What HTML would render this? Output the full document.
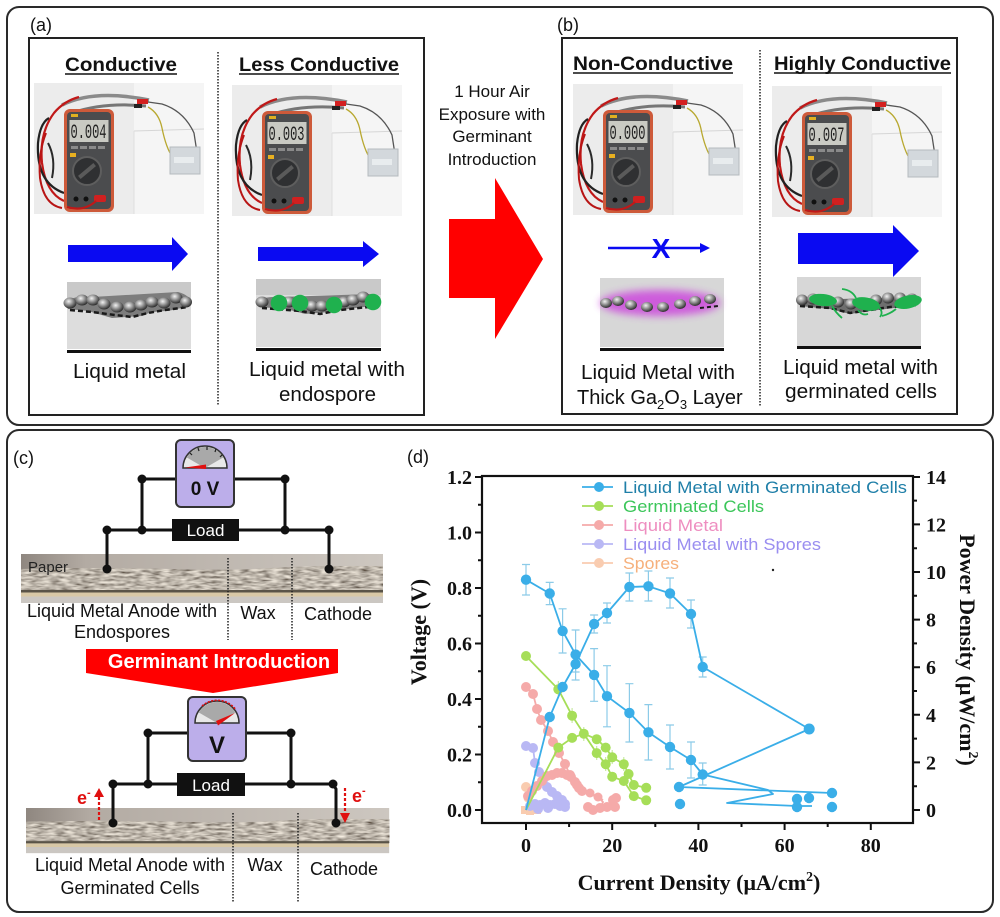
<!DOCTYPE html>
<html><head><meta charset="utf-8"><style>
html,body{margin:0;padding:0;background:#fff;}
svg{display:block;}
.s{font-family:"Liberation Sans",sans-serif;}
.r{font-family:"Liberation Serif",serif;font-weight:bold;}
</style></head><body>
<svg width="1000" height="917" viewBox="0 0 1000 917" xmlns="http://www.w3.org/2000/svg">
<defs>
<radialGradient id="ball" cx="0.4" cy="0.35" r="0.65"><stop offset="0" stop-color="#f2f2f2"/><stop offset="0.45" stop-color="#9a9a9a"/><stop offset="1" stop-color="#2e2e2e"/></radialGradient>
<linearGradient id="paperG" x1="0" x2="1" y1="0" y2="0"><stop offset="0" stop-color="#8f8780"/><stop offset="0.18" stop-color="#b3aba3"/><stop offset="1" stop-color="#cdc7c0"/></linearGradient>
<filter id="nz" x="0" y="0" width="1" height="1"><feTurbulence type="fractalNoise" baseFrequency="0.1 0.4" numOctaves="2" seed="5" result="t"/><feColorMatrix in="t" type="matrix" values="1.1 0 0 0 -0.04  1.05 0 0 0 -0.06  0.95 0 0 0 -0.07  0 0 0 0 1"/></filter>
<filter id="blur4" x="-30%" y="-100%" width="160%" height="300%"><feGaussianBlur stdDeviation="4"/></filter>
<g id="photo">
 <rect width="170" height="131" fill="#ececec"/>
 <rect x="100" y="0" width="70" height="131" fill="#f5f5f5"/>
 <line x1="100" y1="48" x2="170" y2="46" stroke="#d6d6d6" stroke-width="1"/>
 <line x1="100" y1="48" x2="100" y2="131" stroke="#dedede" stroke-width="1"/>
 <path d="M28,22 Q60,6 115,17" stroke="#8a8a8a" stroke-width="3.5" fill="none"/>
 <path d="M38,30 Q70,19 112,23" stroke="#767676" stroke-width="3" fill="none"/>
 <rect x="103" y="16" width="11" height="5" fill="#d42020"/>
 <rect x="100" y="21" width="8" height="4" fill="#222"/>
 <path d="M114,19 L128,21 Q150,28 160,50 L164,76" stroke="#555" stroke-width="1.3" fill="none"/>
 <path d="M114,24 Q125,30 128,45 Q132,65 139,75" stroke="#b8a830" stroke-width="1.3" fill="none"/>
 <rect x="136" y="64" width="30" height="27" fill="#d3d8dc" stroke="#b5babe" stroke-width="1"/>
 <rect x="140" y="74" width="20" height="6" fill="#e8ecee"/>
 <path d="M30,118 Q12,110 8,80 Q5,50 20,30 Q30,18 45,14" stroke="#c01818" stroke-width="2.2" fill="none"/>
 <path d="M30,110 Q2,100 4,60 Q6,40 15,35" stroke="#222" stroke-width="2.2" fill="none"/>
 <path d="M28,125 Q10,122 6,95 Q4,70 12,50" stroke="#b81515" stroke-width="2" fill="none"/>
 <path d="M14,60 Q22,75 18,95" stroke="#2a2a2a" stroke-width="2" fill="none"/>
 <rect x="30" y="26" width="50" height="103" rx="6" fill="#cd5a3a"/>
 <rect x="33" y="29" width="44" height="97" rx="4" fill="#4b4c4e"/>
 <rect x="35.5" y="37" width="39" height="22" fill="#c9cac3"/>
 <rect x="37" y="31" width="7" height="3" fill="#e0b020"/>
 <rect x="37" y="63" width="7" height="3" fill="#8a8a8a"/><rect x="46" y="63" width="7" height="3" fill="#8a8a8a"/><rect x="55" y="63" width="7" height="3" fill="#8a8a8a"/><rect x="64" y="63" width="7" height="3" fill="#8a8a8a"/>
 <rect x="36" y="70" width="6" height="4" fill="#e8b020"/>
 <circle cx="53" cy="88" r="14" fill="#2f3032" stroke="#5e5e5e" stroke-width="2"/>
 <rect x="43" y="86" width="20" height="4" transform="rotate(-40 53 88)" fill="#5a5a5a"/>
 <circle cx="42" cy="116" r="2.5" fill="#111"/><circle cx="52" cy="116" r="2.5" fill="#111"/>
 <rect x="60" y="112" width="12" height="7" rx="2" fill="#d02020"/>
 <path d="M62,118 Q50,129 33,124" stroke="#c01818" stroke-width="2.2" fill="none"/>
</g>
<g id="strip">
 <rect x="0" y="0" width="362" height="49" fill="#c8c2ba"/>
 <rect x="0" y="12" width="362" height="26" filter="url(#nz)"/>
 <path d="M0,0 H362 V12 Q300,11 250,14 Q200,17 150,15 Q80,13 0,15 Z" fill="url(#paperG)"/>
 <rect x="0" y="36" width="362" height="2.5" fill="#5a5448"/>
 <rect x="0" y="38.5" width="362" height="4" fill="#d8c8a6"/>
 <rect x="0" y="42.5" width="362" height="6.5" fill="#cbc7c2"/>
</g>
</defs>

<rect width="1000" height="917" fill="#fff"/>

<!-- ============ TOP PANEL ============ -->
<rect x="7" y="7" width="986" height="418" rx="12" fill="none" stroke="#2a2a2a" stroke-width="2"/>
<text x="30" y="31" class="s" font-size="18" fill="#111">(a)</text>
<text x="557" y="31" class="s" font-size="18" fill="#111">(b)</text>

<rect x="29" y="38" width="395" height="377" fill="none" stroke="#222" stroke-width="2"/>
<rect x="562" y="38" width="395" height="376" fill="none" stroke="#222" stroke-width="2"/>
<line x1="218" y1="52" x2="218" y2="406" stroke="#222" stroke-width="1.5" stroke-dasharray="1.5 1.5"/>
<line x1="760" y1="50" x2="760" y2="406" stroke="#222" stroke-width="1.5" stroke-dasharray="1.5 1.5"/>

<g class="s" font-weight="bold" fill="#111" font-size="19">
 <text x="65" y="71" textLength="112" lengthAdjust="spacingAndGlyphs">Conductive</text>
 <line x1="65" y1="74" x2="177" y2="74" stroke="#111" stroke-width="1.5"/>
 <text x="239" y="71" textLength="160" lengthAdjust="spacingAndGlyphs">Less Conductive</text>
 <line x1="239" y1="74" x2="399" y2="74" stroke="#111" stroke-width="1.5"/>
 <text x="573" y="70" textLength="160" lengthAdjust="spacingAndGlyphs">Non-Conductive</text>
 <line x1="573" y1="73" x2="733" y2="73" stroke="#111" stroke-width="1.5"/>
 <text x="774" y="70" textLength="177" lengthAdjust="spacingAndGlyphs">Highly Conductive</text>
 <line x1="774" y1="73" x2="951" y2="73" stroke="#111" stroke-width="1.5"/>
</g>

<!-- photos -->
<use href="#photo" transform="translate(34,83)"/>
<use href="#photo" transform="translate(232,85)"/>
<use href="#photo" transform="translate(573,84)"/>
<use href="#photo" transform="translate(772,86)"/>
<g font-family="'Liberation Mono',monospace" font-size="20" fill="#222">
 <text x="70.5" y="138" textLength="36" lengthAdjust="spacingAndGlyphs">0.004</text>
 <text x="268.5" y="140" textLength="36" lengthAdjust="spacingAndGlyphs">0.003</text>
 <text x="609.5" y="139" textLength="36" lengthAdjust="spacingAndGlyphs">0.000</text>
 <text x="808.5" y="141" textLength="36" lengthAdjust="spacingAndGlyphs">0.007</text>
</g>

<!-- blue arrows -->
<polygon points="68,245 172,245 172,237 188,254 172,271 172,262 68,262" fill="#0a0af2"/>
<polygon points="258,247 363,247 363,241 379,254 363,267 363,261 258,261" fill="#0a0af2"/>
<line x1="608" y1="248" x2="702" y2="248" stroke="#0a0af2" stroke-width="2.5"/>
<polygon points="700,243 710,248 700,253" fill="#0a0af2"/>
<text x="661" y="258" class="s" font-weight="bold" font-size="28" fill="#0a0af2" text-anchor="middle">X</text>
<polygon points="798,233 893,233 893,225 919,251 893,277 893,264 798,264" fill="#0a0af2"/>

<!-- red arrow -->
<polygon points="449,219 495,219 495,178 543,259 495,339 495,298 449,298" fill="#ff0000"/>
<g class="s" font-size="17" fill="#111" text-anchor="middle">
 <text x="492" y="97">1 Hour Air</text>
 <text x="492" y="120">Exposure with</text>
 <text x="492" y="142">Germinant</text>
 <text x="492" y="165">Introduction</text>
</g>

<!-- diagram a1 -->
<rect x="67" y="282" width="124" height="67" fill="#dddddd"/>
<rect x="67" y="282" width="124" height="16" fill="#c9c9c9"/>
<path d="M66,303 Q72,295 92,297 L178,292 Q193,296 190,306 L168,311 Q150,311 142,316 L112,318 Q98,314 88,311 L68,309 Z" fill="#7d7d7d"/>
<path d="M70,310 L92,312 L115,315 L132,317 L148,313 L165,310 L188,307" stroke="#1a1a1a" stroke-width="2.5" fill="none" stroke-dasharray="5 3"/>
<g fill="url(#ball)">
 <ellipse cx="70" cy="303" rx="6.5" ry="5.5"/><ellipse cx="82" cy="300" rx="6.5" ry="5.5"/><ellipse cx="93" cy="300" rx="6.5" ry="5.5"/><ellipse cx="104" cy="304" rx="6.5" ry="5.5"/><ellipse cx="117" cy="307" rx="6.5" ry="5.5"/><ellipse cx="130" cy="307" rx="6.5" ry="5.5"/><ellipse cx="141" cy="305" rx="6.5" ry="5.5"/><ellipse cx="152" cy="302" rx="6.5" ry="5.5"/><ellipse cx="164" cy="303" rx="6.5" ry="5.5"/><ellipse cx="176" cy="298" rx="6.5" ry="5.5"/><ellipse cx="186" cy="302" rx="6" ry="5.5"/>
</g>
<rect x="67" y="350" width="124" height="3" fill="#111"/>

<!-- diagram a2 -->
<rect x="256" y="279" width="125" height="68" fill="#dddddd"/>
<rect x="256" y="279" width="125" height="16" fill="#c9c9c9"/>
<path d="M257,302 Q263,296 280,297 L372,294 Q382,297 380,305 L356,308 Q340,310 330,312 L305,314 Q295,311 285,309 L259,307 Z" fill="#7d7d7d"/>
<path d="M262,308 L300,311 L320,314 L340,310 L378,306" stroke="#1a1a1a" stroke-width="2.5" fill="none" stroke-dasharray="5 3"/>
<g fill="url(#ball)">
 <ellipse cx="262" cy="302" rx="6.5" ry="5.5"/><ellipse cx="289" cy="302" rx="6.5" ry="5.5"/><ellipse cx="312" cy="306" rx="6.5" ry="5.5"/><ellipse cx="322" cy="306" rx="6.5" ry="5.5"/><ellipse cx="344" cy="302" rx="6.5" ry="5.5"/><ellipse cx="353" cy="300" rx="6.5" ry="5.5"/><ellipse cx="363" cy="297" rx="6.5" ry="5.5"/>
</g>
<g fill="#1fb14e"><circle cx="279" cy="303" r="8.3"/><circle cx="300" cy="303" r="8.3"/><circle cx="334" cy="305" r="8.3"/><circle cx="373" cy="302" r="8.3"/></g>
<rect x="256" y="348" width="125" height="3" fill="#111"/>

<!-- diagram b1 -->
<rect x="600" y="278" width="124" height="69" fill="#d7d7d7"/>
<ellipse cx="660" cy="303" rx="60" ry="13" fill="#cc4fdc" filter="url(#blur4)" opacity="0.9"/>
<g fill="url(#ball)">
 <ellipse cx="606" cy="303" rx="6" ry="5"/><ellipse cx="618" cy="301" rx="6" ry="5"/><ellipse cx="631" cy="305" rx="6" ry="5"/><ellipse cx="647" cy="307" rx="6" ry="5"/><ellipse cx="663" cy="307" rx="6" ry="5"/><ellipse cx="680" cy="304" rx="6" ry="5"/><ellipse cx="695" cy="301" rx="6" ry="5"/><ellipse cx="710" cy="299" rx="6" ry="5"/>
</g>
<path d="M700,308 L718,306" stroke="#1a1a1a" stroke-width="2" fill="none" stroke-dasharray="4 3"/>
<rect x="600" y="348" width="124" height="3" fill="#111"/>

<!-- diagram b2 -->
<rect x="797" y="277" width="124" height="69" fill="#d7d7d7"/>
<path d="M799,300 L918,297 L918,305 L870,311 L850,314 L830,309 L800,306 Z" fill="#6e6e6e"/>
<path d="M800,306 L830,308 L850,313 L870,310 L890,307 L918,305" stroke="#1a1a1a" stroke-width="2.5" fill="none" stroke-dasharray="5 3"/>
<g fill="url(#ball)">
 <ellipse cx="802" cy="300" rx="6" ry="5.5"/><ellipse cx="813" cy="299" rx="6" ry="5.5"/><ellipse cx="838" cy="302" rx="6" ry="5.5"/><ellipse cx="851" cy="304" rx="6" ry="5.5"/><ellipse cx="876" cy="300" rx="6" ry="5.5"/><ellipse cx="888" cy="298" rx="6" ry="5.5"/><ellipse cx="900" cy="298" rx="6" ry="5.5"/><ellipse cx="912" cy="299" rx="6" ry="5.5"/>
</g>
<g fill="#1fb14e">
 <ellipse cx="823" cy="300" rx="14" ry="6" transform="rotate(6 823 300)"/>
 <ellipse cx="866" cy="304" rx="14" ry="6.5" transform="rotate(10 866 304)"/>
 <ellipse cx="908" cy="302" rx="14" ry="6.5" transform="rotate(-12 908 302)"/>
</g>
<g stroke="#1fb14e" stroke-width="1.8" fill="none">
 <path d="M842,289 Q852,290 856,298"/>
 <path d="M832,306 Q836,313 842,318"/>
 <path d="M878,306 Q884,312 880,317"/>
 <path d="M858,310 Q862,316 868,314"/>
 <path d="M896,309 Q890,314 882,316"/>
</g>
<rect x="797" y="346" width="124" height="3" fill="#111"/>

<!-- captions -->
<g class="s" font-size="20" fill="#111">
 <text x="73" y="378" textLength="113" lengthAdjust="spacingAndGlyphs">Liquid metal</text>
 <text x="249" y="376" textLength="156" lengthAdjust="spacingAndGlyphs">Liquid metal with</text>
 <text x="279" y="401" textLength="97" lengthAdjust="spacingAndGlyphs">endospore</text>
 <text x="581" y="379" textLength="154" lengthAdjust="spacingAndGlyphs">Liquid Metal with</text>
 <text x="577" y="404">Thick Ga<tspan font-size="13" dy="5">2</tspan><tspan dy="-5">O</tspan><tspan font-size="13" dy="5">3</tspan><tspan dy="-5"> Layer</tspan></text>
 <text x="783" y="374" textLength="155" lengthAdjust="spacingAndGlyphs">Liquid metal with</text>
 <text x="785" y="398" textLength="152" lengthAdjust="spacingAndGlyphs">germinated cells</text>
</g>

<!-- ============ BOTTOM PANEL ============ -->
<rect x="7" y="430" width="986" height="482" rx="12" fill="none" stroke="#2a2a2a" stroke-width="2"/>
<text x="13" y="464" class="s" font-size="18" fill="#111">(c)</text>
<text x="407" y="463" class="s" font-size="18" fill="#111">(d)</text>

<!-- panel c top circuit -->
<use href="#strip" transform="translate(21,554)"/>
<g stroke="#111" stroke-width="3" fill="none">
 <polyline points="142,530 142,479 285,479 285,530"/>
 <line x1="107" y1="530" x2="329" y2="530"/>
 <line x1="107" y1="530" x2="107" y2="569"/>
 <line x1="329" y1="530" x2="329" y2="569"/>
</g>
<g fill="#111">
 <circle cx="142" cy="479" r="4.5"/><circle cx="285" cy="479" r="4.5"/>
 <circle cx="107" cy="530" r="4.5"/><circle cx="142" cy="530" r="4.5"/><circle cx="285" cy="530" r="4.5"/><circle cx="329" cy="530" r="4.5"/>
 <circle cx="107" cy="569" r="4.5"/><circle cx="329" cy="569" r="4.5"/>
</g>
<rect x="176" y="440" width="58" height="67" rx="5" fill="#bcaeea" stroke="#333" stroke-width="2"/>
<path d="M183,468 A22,22 0 0 1 227,468 Z" fill="#e8e8e8" stroke="#333" stroke-width="1.5"/>
<path d="M205,468 L186.8,457.5 A21,21 0 0 1 223.2,457.5 Z" fill="#a9a9a9"/>
<g stroke="#222" stroke-width="1.2"><line x1="190" y1="453" x2="192" y2="455"/><line x1="198" y1="448" x2="199" y2="451"/><line x1="207" y1="447" x2="207" y2="450"/><line x1="216" y1="449" x2="215" y2="452"/><line x1="222" y1="455" x2="220" y2="457"/></g>
<polygon points="206,464.5 206,469 185,467.5" fill="#e01010"/>
<rect x="172" y="519" width="67" height="22" fill="#111"/>
<text x="205.5" y="536" class="s" font-size="17" fill="#fff" text-anchor="middle">Load</text>
<text x="205" y="495" class="s" font-size="19" font-weight="bold" fill="#111" text-anchor="middle">0 V</text>
<line x1="228" y1="558" x2="228" y2="640" stroke="#222" stroke-width="1.5" stroke-dasharray="1.5 1.5"/>
<line x1="292" y1="558" x2="292" y2="640" stroke="#222" stroke-width="1.5" stroke-dasharray="1.5 1.5"/>
<text x="28" y="572" class="s" font-size="15" fill="#222">Paper</text>
<g class="s" font-size="18" fill="#111" text-anchor="middle">
 <text x="122" y="617">Liquid Metal Anode with</text>
 <text x="122" y="638">Endospores</text>
 <text x="258" y="619">Wax</text>
 <text x="338" y="620">Cathode</text>
</g>

<!-- banner -->
<polygon points="86,649 338,649 338,673 213,693 86,673" fill="#ff0000"/>
<text x="219" y="668" class="s" font-size="20" font-weight="bold" fill="#fff" text-anchor="middle">Germinant Introduction</text>

<!-- panel c bottom circuit -->
<use href="#strip" transform="translate(26,808) scale(1.003,0.92)"/>
<g stroke="#111" stroke-width="3" fill="none">
 <polyline points="148,784 148,733 291,733 291,784"/>
 <line x1="113" y1="784" x2="333" y2="784"/>
 <line x1="113" y1="784" x2="113" y2="823"/>
 <polyline points="333,784 336,789 336,823"/>
</g>
<g fill="#111">
 <circle cx="148" cy="733" r="4.5"/><circle cx="291" cy="733" r="4.5"/>
 <circle cx="113" cy="784" r="4.5"/><circle cx="148" cy="784" r="4.5"/><circle cx="291" cy="784" r="4.5"/><circle cx="333" cy="784" r="4.5"/>
 <circle cx="113" cy="823" r="4.5"/><circle cx="336" cy="823" r="4.5"/>
</g>
<rect x="188" y="697" width="58" height="64" rx="5" fill="#bcaeea" stroke="#333" stroke-width="2"/>
<path d="M195,723 A22,22 0 0 1 239,723 Z" fill="#e8e8e8" stroke="#333" stroke-width="1.5"/>
<path d="M217,723 L198.8,712.5 A21,21 0 0 1 235.2,712.5 Z" fill="#a9a9a9"/>
<path d="M202,706 A23,23 0 0 1 236,710" stroke="#e01010" stroke-width="1.6" fill="none" stroke-dasharray="2 1.5"/>
<polygon points="216,721 218,725.5 235,713" fill="#e01010"/>
<rect x="177" y="773" width="68" height="23" fill="#111"/>
<text x="211" y="791" class="s" font-size="17" fill="#fff" text-anchor="middle">Load</text>
<text x="217" y="753" class="s" font-size="24" font-weight="bold" fill="#111" text-anchor="middle">V</text>
<line x1="99" y1="820" x2="99" y2="796" stroke="#e01010" stroke-width="2.2" stroke-dasharray="3 2"/>
<polygon points="94,797 99,788 104,797" fill="#e01010"/>
<text x="77" y="804" class="s" font-size="18" font-weight="bold" fill="#e01010">e<tspan font-size="11" dy="-8">-</tspan></text>
<line x1="345" y1="788" x2="345" y2="814" stroke="#e01010" stroke-width="2.2" stroke-dasharray="3 2"/>
<polygon points="340,813 345,823 350,813" fill="#e01010"/>
<text x="352" y="802" class="s" font-size="18" font-weight="bold" fill="#e01010">e<tspan font-size="11" dy="-8">-</tspan></text>
<line x1="233" y1="813" x2="233" y2="903" stroke="#222" stroke-width="1.5" stroke-dasharray="1.5 1.5"/>
<line x1="298" y1="813" x2="298" y2="903" stroke="#222" stroke-width="1.5" stroke-dasharray="1.5 1.5"/>
<g class="s" font-size="18" fill="#111" text-anchor="middle">
 <text x="130" y="871">Liquid Metal Anode with</text>
 <text x="130" y="894">Germinated Cells</text>
 <text x="265" y="871">Wax</text>
 <text x="344" y="875">Cathode</text>
</g>

<!-- ============ CHART ============ -->
<g stroke="#8ccbe8" stroke-width="1.2" fill="none">
 <path d="M526,564.5V595 M522,564.5h8 M522,595h8"/>
 <path d="M549.7,582.4V604.6 M545.7,582.4h8 M545.7,604.6h8"/>
 <path d="M562.6,608.8V653 M558.6,608.8h8 M558.6,653h8"/>
 <path d="M575.6,630V680 M571.6,630h8 M571.6,680h8"/>
 <path d="M594.1,648.6V701.3 M590.1,648.6h8 M590.1,701.3h8"/>
 <path d="M607,665.7V726.8 M603,665.7h8 M603,726.8h8"/>
 <path d="M629.4,683.7V742 M625.4,683.7h8 M625.4,742h8"/>
 <path d="M648.4,704.6V760 M644.4,704.6h8 M644.4,760h8"/>
 <path d="M670,725V769 M666,725h8 M666,769h8"/>
 <path d="M691,742V778 M687,742h8 M687,778h8"/>
 <path d="M702.7,763V785 M698.7,763h8 M698.7,785h8"/>
 <path d="M594.1,615V633 M590.1,615h8 M590.1,633h8"/>
 <path d="M607,603V623 M603,603h8 M603,623h8"/>
 <path d="M629.4,573V601 M625.4,573h8 M625.4,601h8"/>
 <path d="M648.4,571V601 M644.4,571h8 M644.4,601h8"/>
 <path d="M670,578V608 M666,578h8 M666,608h8"/>
 <path d="M691,600V628 M687,600h8 M687,628h8"/>
 <path d="M702.7,657V677 M698.7,657h8 M698.7,677h8"/>
 <path d="M575.6,656V672 M571.6,656h8 M571.6,672h8"/>
</g>
<g stroke="#c4e89a" stroke-width="1.1" fill="none">
 <path d="M558.3,681V697 M572.1,708V723 M583.8,727V741 M596.7,746V760 M605.7,757V771 M612.2,750V764 M623.8,757V771"/>
</g>

<g fill="#f9ccb0">
 <circle cx="526" cy="787" r="5"/><circle cx="528" cy="798" r="4.5"/>
 <rect x="521" y="806" width="8" height="8"/><rect x="526" y="807" width="8" height="8"/><rect x="531" y="806" width="8" height="8"/><rect x="535" y="806" width="6" height="8"/>
</g>
<g stroke="#b9b8f4" stroke-width="1.8" fill="none">
 <polyline points="526,746 533,748 535,763 539,772 543,780 547,787 552,792 557,796 562,800 565,804"/>
 <polyline points="528,808 533,805 538,806 543,804 548,806 553,805 558,806 562,806 565,807"/>
</g>
<g fill="#b9b8f4">
 <circle cx="526" cy="746" r="5"/><circle cx="533" cy="748" r="5"/><circle cx="535" cy="763" r="5"/><circle cx="539" cy="772" r="5"/><circle cx="543" cy="780" r="5"/><circle cx="547" cy="787" r="5"/><circle cx="552" cy="792" r="5"/><circle cx="557" cy="796" r="5"/><circle cx="562" cy="800" r="5"/><circle cx="565" cy="804" r="5"/>
 <circle cx="530" cy="806" r="5"/><circle cx="535" cy="804" r="5"/><circle cx="540" cy="805" r="5"/><circle cx="545" cy="803" r="5"/><circle cx="550" cy="805" r="5"/><circle cx="555" cy="804" r="5"/><circle cx="560" cy="806" r="5"/><circle cx="565" cy="807" r="5"/><circle cx="548" cy="808" r="5"/><circle cx="538" cy="809" r="5"/>
</g>
<g stroke="#f5aaa9" stroke-width="1.8" fill="none">
 <polyline points="526,687 533,694 537,709 541,720 548,731 553,742 559,753 565,764 570,775 577,785 582,791 590,793 598,797 603,800"/>
 <polyline points="528,796 532,791 537,786 542,781 547,776 552,775 557,773 562,773 567,775 571,777 575,782 579,788 585,791 592,795 598,797 603,802 600,808 593,810 588,807 600,807 607,807 615,807 613,800 616,798"/>
</g>
<g fill="#f5aaa9">
 <circle cx="526" cy="687" r="5"/><circle cx="533" cy="694" r="5"/><circle cx="537" cy="709" r="5"/><circle cx="541" cy="720" r="5"/><circle cx="548" cy="731" r="5"/><circle cx="553" cy="742" r="5"/><circle cx="559" cy="753" r="5"/><circle cx="565" cy="764" r="5"/><circle cx="570" cy="775" r="5"/><circle cx="577" cy="785" r="5"/><circle cx="582" cy="791" r="5"/><circle cx="590" cy="793" r="4.5"/><circle cx="598" cy="797" r="4.5"/>
 <circle cx="528" cy="796" r="5"/><circle cx="532" cy="791" r="5"/><circle cx="537" cy="786" r="5"/><circle cx="542" cy="781" r="5"/><circle cx="547" cy="776" r="5"/><circle cx="552" cy="775" r="5"/><circle cx="557" cy="773" r="5"/><circle cx="562" cy="773" r="5"/><circle cx="567" cy="775" r="5"/><circle cx="571" cy="777" r="5"/><circle cx="575" cy="782" r="5"/><circle cx="579" cy="788" r="5"/>
 <circle cx="588" cy="807" r="5"/><circle cx="593" cy="810" r="5"/><circle cx="600" cy="808" r="5"/><circle cx="607" cy="807" r="5"/><circle cx="615" cy="807" r="5"/><circle cx="613" cy="800" r="5"/><circle cx="616" cy="798" r="5"/>
</g>
<g stroke="#a6de58" stroke-width="1.8" fill="none">
 <polyline points="526,656 558.3,689.3 572.1,715.7 583.8,733.7 596.7,753.1 605.7,764.2 612.2,776.7 623.8,781 633.8,796.1 646.2,800.3"/>
 <polyline points="526,810 558.3,747.6 572.1,737.9 583.8,733.7 596.7,739.2 605.7,747.6 612.2,757.3 623.8,764.2 628.6,774 633.8,785 646.2,787.8"/>
</g>
<g fill="#a6de58">
 <circle cx="526" cy="656" r="5"/><circle cx="558.3" cy="689.3" r="5"/><circle cx="572.1" cy="715.7" r="5"/><circle cx="583.8" cy="733.7" r="5"/><circle cx="596.7" cy="753.1" r="5"/><circle cx="605.7" cy="764.2" r="5"/><circle cx="612.2" cy="776.7" r="5"/><circle cx="623.8" cy="781" r="5"/><circle cx="633.8" cy="796.1" r="5"/><circle cx="646.2" cy="800.3" r="5"/>
 <circle cx="558.3" cy="747.6" r="5"/><circle cx="572.1" cy="737.9" r="5"/><circle cx="596.7" cy="739.2" r="5"/><circle cx="605.7" cy="747.6" r="5"/><circle cx="612.2" cy="757.3" r="5"/><circle cx="623.8" cy="764.2" r="5"/><circle cx="628.6" cy="774" r="5"/><circle cx="633.8" cy="785" r="5"/><circle cx="646.2" cy="787.8" r="5"/>
</g>
<g stroke="#3aaee8" stroke-width="1.8" fill="none" stroke-linejoin="round">
 <polyline points="526,579.7 549.7,593.5 562.6,631 575.6,654.6 594.1,674.9 607,696.2 629.4,712.9 648.4,732.3 670,747 691,760 702.7,774.5 768,790 773,794 727,803 797,806 812,806"/>
 <polyline points="526,810 549.7,717 562.6,687 575.6,664 594.1,624 607,613 629.4,587 648.4,586.3 670,593.4 691,614 702.7,667 809.2,729 679,787 832,793"/>
</g>
<g fill="#3aaee8">
 <circle cx="526" cy="579.7" r="5.2"/><circle cx="549.7" cy="593.5" r="5.2"/><circle cx="562.6" cy="631" r="5.2"/><circle cx="575.6" cy="654.6" r="5.2"/><circle cx="594.1" cy="674.9" r="5.2"/><circle cx="607" cy="696.2" r="5.2"/><circle cx="629.4" cy="712.9" r="5.2"/><circle cx="648.4" cy="732.3" r="5.2"/><circle cx="670" cy="747" r="5.2"/><circle cx="691" cy="760" r="5.2"/><circle cx="702.7" cy="774.5" r="5.2"/>
 <circle cx="549.7" cy="717" r="5.2"/><circle cx="562.6" cy="687" r="5.2"/><circle cx="575.6" cy="664" r="5.2"/><circle cx="594.1" cy="624" r="5.2"/><circle cx="607" cy="613" r="5.2"/><circle cx="629.4" cy="587" r="5.2"/><circle cx="648.4" cy="586.3" r="5.2"/><circle cx="670" cy="593.4" r="5.2"/><circle cx="691" cy="614" r="5.2"/><circle cx="702.7" cy="667" r="5.2"/><circle cx="809.2" cy="729" r="5.5"/>
 <circle cx="679" cy="787" r="5.2"/><circle cx="832" cy="793" r="5.2"/><circle cx="797" cy="799" r="5.2"/><circle cx="809" cy="798" r="5.2"/><circle cx="797" cy="807" r="5.2"/><circle cx="832" cy="807" r="5.2"/><circle cx="680" cy="804" r="5.2"/>
</g>
<circle cx="773" cy="570" r="1.2" fill="#222"/>

<!-- legend -->
<g stroke-width="1.8">
 <line x1="582" y1="487" x2="613" y2="487" stroke="#3aaee8"/><circle cx="599" cy="487" r="5" fill="#3aaee8"/>
 <line x1="582" y1="506" x2="613" y2="506" stroke="#a6de58"/><circle cx="599" cy="506" r="5" fill="#a6de58"/>
 <line x1="582" y1="525" x2="613" y2="525" stroke="#f5aaa9"/><circle cx="599" cy="525" r="5" fill="#f5aaa9"/>
 <line x1="582" y1="544" x2="613" y2="544" stroke="#b9b8f4"/><circle cx="599" cy="544" r="5" fill="#b9b8f4"/>
 <line x1="582" y1="563" x2="613" y2="563" stroke="#f9ccb0"/><circle cx="599" cy="563" r="5" fill="#f9ccb0"/>
</g>
<g class="s" font-size="16.5">
 <text x="623" y="493" fill="#1f7fa8" textLength="284" lengthAdjust="spacingAndGlyphs">Liquid Metal with Germinated Cells</text>
 <text x="623" y="512" fill="#3cc65a" textLength="141" lengthAdjust="spacingAndGlyphs">Germinated Cells</text>
 <text x="623" y="531" fill="#ee8ec0" textLength="100" lengthAdjust="spacingAndGlyphs">Liquid Metal</text>
 <text x="623" y="550" fill="#9a8ef0" textLength="198" lengthAdjust="spacingAndGlyphs">Liquid Metal with Spores</text>
 <text x="623" y="569" fill="#f6b07c" textLength="56" lengthAdjust="spacingAndGlyphs">Spores</text>
</g>

<!-- axes -->
<rect x="482" y="476" width="431" height="347" fill="none" stroke="#111" stroke-width="2.2"/>
<g stroke="#111" stroke-width="2">
 <path d="M475,810H482 M475,754.5H482 M475,699H482 M475,643.5H482 M475,588H482 M475,532.5H482 M475,477H482"/>
 <path d="M478,782.3H482 M478,726.8H482 M478,671.3H482 M478,615.8H482 M478,560.3H482 M478,504.8H482"/>
 <path d="M913,810H920 M913,762.4H920 M913,714.8H920 M913,667.2H920 M913,619.6H920 M913,572H920 M913,524.4H920 M913,477H920"/>
 <path d="M913,786.2H917 M913,738.6H917 M913,691H917 M913,643.4H917 M913,595.8H917 M913,548.2H917 M913,500.6H917"/>
 <path d="M526,823V830 M612.2,823V830 M698.4,823V830 M784.6,823V830 M870.8,823V830"/>
 <path d="M569.1,823V827 M655.3,823V827 M741.5,823V827 M827.7,823V827"/>
</g>
<g class="r" font-size="20" fill="#111" text-anchor="end">
 <text x="472" y="817">0.0</text><text x="472" y="761.5">0.2</text><text x="472" y="706">0.4</text><text x="472" y="650.5">0.6</text><text x="472" y="595">0.8</text><text x="472" y="539.5">1.0</text><text x="472" y="484">1.2</text>
</g>
<g class="r" font-size="20" fill="#111">
 <text x="926" y="817">0</text><text x="926" y="769.4">2</text><text x="926" y="721.8">4</text><text x="926" y="674.2">6</text><text x="926" y="626.6">8</text><text x="926" y="579">10</text><text x="926" y="531.4">12</text><text x="926" y="484">14</text>
</g>
<g class="r" font-size="20" fill="#111" text-anchor="middle">
 <text x="526" y="852">0</text><text x="612.2" y="852">20</text><text x="698.4" y="852">40</text><text x="784.6" y="852">60</text><text x="870.8" y="852">80</text>
</g>
<text x="699" y="890" class="r" font-size="22" fill="#111" text-anchor="middle">Current Density (μA/cm<tspan font-size="14" dy="-9">2</tspan><tspan dy="9">)</tspan></text>
<text transform="translate(426,632) rotate(-90)" class="r" font-size="22" fill="#111" text-anchor="middle">Voltage (V)</text>
<text transform="translate(960,650) rotate(90)" class="r" font-size="22" fill="#111" text-anchor="middle">Power Density (μW/cm<tspan font-size="14" dy="-9">2</tspan><tspan dy="9">)</tspan></text>
</svg>
</body></html>
